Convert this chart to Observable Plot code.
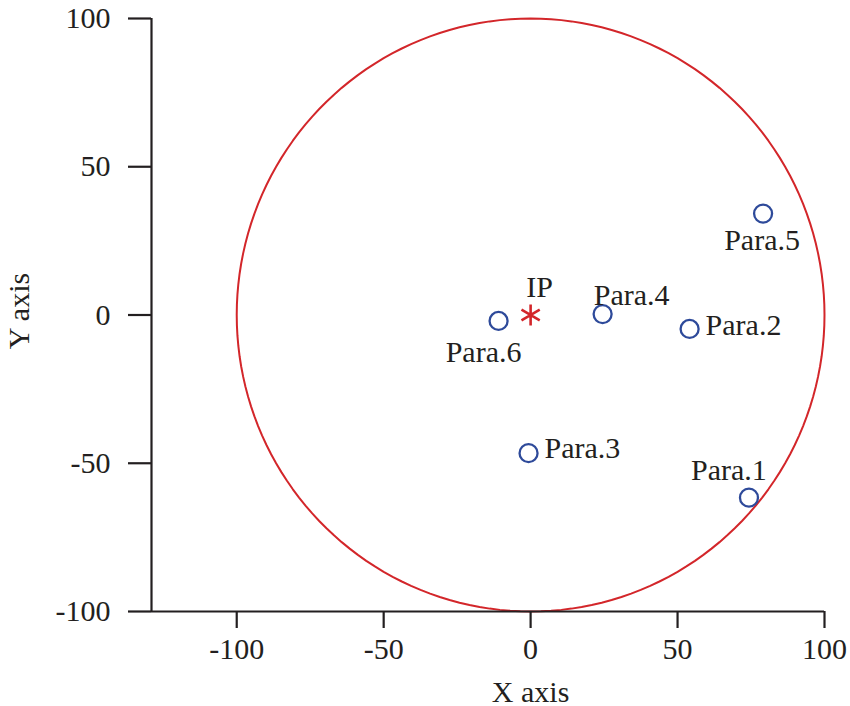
<!DOCTYPE html>
<html>
<head>
<meta charset="utf-8">
<script src="https://cdn.jsdelivr.net/npm/d3@7"></script>
<script src="https://cdn.jsdelivr.net/npm/@observablehq/plot@0.6"></script>
<style>
  html, body { margin: 0; padding: 0; background: #fff; }
  svg { overflow: visible; }
</style>
</head>
<body>
<div id="chart"></div>
<script>
// ---- data ----
const paraNames = ["Para.1", "Para.2", "Para.3", "Para.4", "Para.5", "Para.6"];
const paraX = [74.3, 54.1, -0.7, 24.5, 79.1, -10.9];
const paraY = [-61.6, -4.7, -46.6, 0.3, 34.2, -2.0];
const ipName = ["IP"];
const ipX = [0];
const ipY = [0];
const circleCenterX = [0];
const circleCenterY = [0];
const circleRadius = [100];
const xTicks = [-100, -50, 0, 50, 100];
const yTicks = [-100, -50, 0, 50, 100];
const xDomain = [-129, 100];
const yDomain = [-100, 100];
const xTitle = ["X axis"];
const yTitle = ["Y axis"];

// ---- tables built from the arrays ----
const paras = paraNames.map((n, i) => ({name: n, x: paraX[i], y: paraY[i]}));
const ip = ipName.map((n, i) => ({name: n, x: ipX[i], y: ipY[i]}));
const ring = d3.range(0, 361, 2).map(a => ({
  x: circleCenterX[0] + circleRadius[0] * Math.cos(a * Math.PI / 180),
  y: circleCenterY[0] + circleRadius[0] * Math.sin(a * Math.PI / 180)
}));

// label placement (style only)
const place = {
  "Para.1": {textAnchor: "middle", dx: -20, dy: -18},
  "Para.2": {textAnchor: "start", dx: 16, dy: 6},
  "Para.3": {textAnchor: "start", dx: 16, dy: 5},
  "Para.4": {textAnchor: "middle", dx: 29, dy: -9},
  "Para.5": {textAnchor: "middle", dx: -1, dy: 36},
  "Para.6": {textAnchor: "middle", dx: -15, dy: 41},
  "IP": {textAnchor: "middle", dx: 9, dy: -18}
};

const ink = "#231f20";
const red = "#d3262a";
const blue = "#2e4a9a";

const labelMarks = [...paras, ...ip].map(d => Plot.text([d], {
  x: "x", y: "y", text: "name",
  lineAnchor: "bottom", fill: ink,
  ...place[d.name]
}));

const chart = Plot.plot({
  width: 850,
  height: 706,
  marginLeft: 151,
  marginRight: 26,
  marginTop: 18,
  marginBottom: 95,
  style: {fontFamily: "'Liberation Serif', 'DejaVu Serif', serif", fontSize: "30px", color: ink, background: "#fff", overflow: "visible"},
  x: {domain: xDomain, ticks: xTicks, tickFormat: d => String(d), label: null},
  y: {domain: yDomain, ticks: yTicks, tickFormat: d => String(d), label: null},
  marks: [
    Plot.line(ring, {x: "x", y: "y", stroke: red, strokeWidth: 2, curve: "linear-closed"}),
    Plot.ruleX([xDomain[0]], {stroke: ink, strokeWidth: 2.2}),
    Plot.ruleY([yDomain[0]], {stroke: ink, strokeWidth: 2.2, x1: xDomain[0], x2: xDomain[1]}),
    Plot.axisX({ticks: xTicks, tickSize: 17, tickPadding: 9, strokeWidth: 2.2, stroke: ink, fill: ink, tickFormat: d => String(d), label: null}),
    Plot.axisY({ticks: yTicks, tickSize: 23, tickPadding: 18, strokeWidth: 2.2, stroke: ink, fill: ink, tickFormat: d => String(d), label: null}),
    Plot.dot(paras, {x: "x", y: "y", r: 9, stroke: blue, strokeWidth: 2.3, fill: "none"}),
    Plot.dot(ip, {x: "x", y: "y", r: 10, symbol: "asterisk", stroke: red, strokeWidth: 2.6}),
    ...labelMarks,
    Plot.text(xTitle, {x: (xTicks[0] + xTicks[xTicks.length - 1]) / 2, frameAnchor: "bottom", dy: 90, lineAnchor: "bottom", fill: ink}),
    Plot.text(yTitle, {frameAnchor: "left", rotate: -90, dx: -123, dy: -4, lineAnchor: "bottom", textAnchor: "middle", fill: ink})
  ]
});
document.getElementById("chart").appendChild(chart);
</script>
</body>
</html>
